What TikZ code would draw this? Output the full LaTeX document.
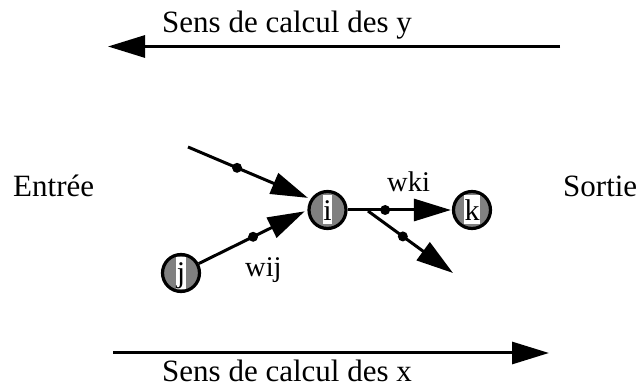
\documentclass[tikz,border=0pt]{standalone}
\usepackage{fontspec}
\setmainfont{Liberation Serif}
\usetikzlibrary{arrows.meta}
\definecolor{nodegrey}{RGB}{128,128,128}
\tikzset{
  big/.style={font=\fontsize{31}{37}\selectfont, inner sep=0pt},
  lab/.style={font=\fontsize{28.5}{34}\selectfont, inner sep=0pt},
  neuron/.style={circle, draw=black, line width=3.2pt, fill=nodegrey, minimum size=37pt, inner sep=0pt,
    font=\fontsize{30}{36}\selectfont},
  conn/.style={line width=3pt, -{Triangle[length=37pt,width=22pt]}},
  dot/.style={circle, fill=black, inner sep=0pt, minimum size=10pt},
}
\newcommand{\lettr}[1]{{\setlength\fboxsep{0pt}\colorbox{white}{\rule[-4pt]{0pt}{29pt}\hspace*{0.5pt}#1\hspace*{0.5pt}}}}
\begin{document}
\begin{tikzpicture}[x=1pt,y=-1pt]
\useasboundingbox (0,0) rectangle (638,387);
% direction arrows
\coordinate (ys) at (560,46.5);
\coordinate (ye) at (108,46.5);
\coordinate (xs) at (113,353);
\coordinate (xe) at (549,353);
\draw[conn] (ys) -- (ye);
\draw[conn] (xs) -- (xe);
\node[big, anchor=base west] (ty) at (162,33) {Sens de calcul des y};
\node[big, anchor=base west] (tx) at (162,382) {Sens de calcul des x};
\node[big, anchor=base west] (in) at (13,197) {Entrée};
\node[big, anchor=base west] (out) at (563,197) {Sortie};
% neurons
\node[neuron] (j) at (181,273) {\lettr{j}};
\node[neuron] (i) at (327.5,210) {\lettr{i}};
\node[neuron] (k) at (472,210) {\lettr{k}};
% connections
\coordinate (a) at (188,147);
\draw[conn, shorten >=3pt] (a) -- node[dot, pos=0.4] (d1) {} (i.147);
\draw[conn, shorten >=3pt] (j.28) -- node[dot, pos=0.5] (d2) {} (i.west);
\draw[conn, shorten >=1pt] (i.east) -- node[dot, pos=0.36] (d3) {} (k.west);
\coordinate (b) at (368,211);
\coordinate (c) at (453,273);
\draw[conn] (b) -- node[dot, pos=0.41] (d4) {} (c);
% labels
\node[lab, anchor=base west] (wij) at (245,277) {wij};
\node[lab, anchor=base west] (wki) at (387,192) {wki};
\end{tikzpicture}
\end{document}
